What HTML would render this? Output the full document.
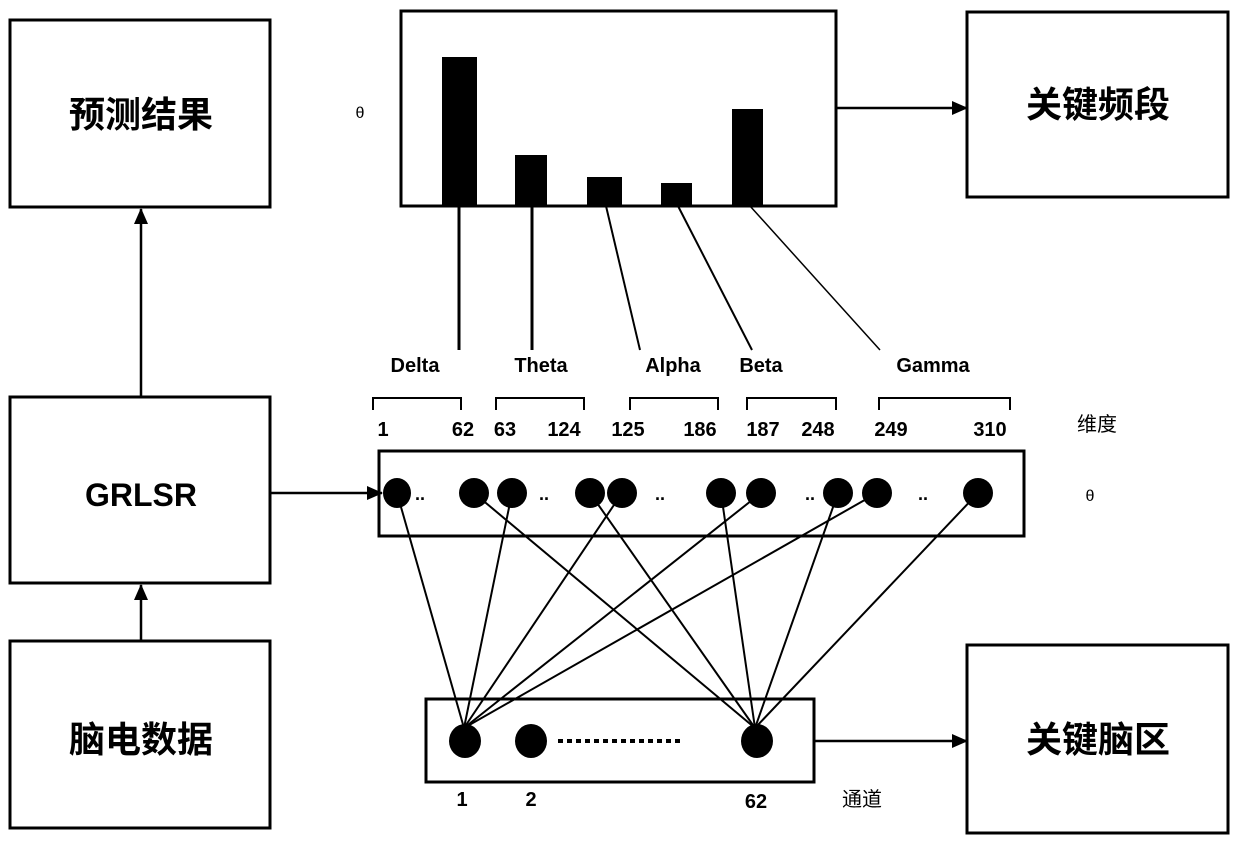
<!DOCTYPE html>
<html><head><meta charset="utf-8"><style>
body{margin:0;background:#fff;}
svg text{font-family:"Liberation Sans","Noto Sans CJK SC",sans-serif;}
</style></head><body>
<svg width="1240" height="853" viewBox="0 0 1240 853" xmlns="http://www.w3.org/2000/svg">
<defs>
<marker id="b" markerWidth="16" markerHeight="16" refX="15" refY="8" orient="auto" markerUnits="userSpaceOnUse"><path d="M0,1 L16,8 L0,15 z" fill="#000"/></marker></defs>
<g fill="none" stroke="#000" stroke-width="3">
<rect x="10" y="20" width="260" height="187"/>
<rect x="10" y="397" width="260" height="186"/>
<rect x="10" y="641" width="260" height="187"/>
<rect x="967" y="12" width="261" height="185"/>
<rect x="967" y="645" width="261" height="188"/>
<rect x="401" y="11" width="435" height="195"/>
<rect x="379" y="451" width="645" height="85"/>
<rect x="426" y="699" width="388" height="83"/>
</g>
<g stroke="#000" stroke-width="2.5" fill="none">
<line x1="141" y1="397" x2="141" y2="209" marker-end="url(#b)"/>
<line x1="141" y1="641" x2="141" y2="585" marker-end="url(#b)"/>
<line x1="270" y1="493" x2="382" y2="493" marker-end="url(#b)"/>
<line x1="836" y1="108" x2="967" y2="108" marker-end="url(#b)"/>
<line x1="814" y1="741" x2="967" y2="741" marker-end="url(#b)"/>
</g>
<g fill="#000">
<rect x="442" y="57" width="35" height="149"/>
<rect x="515" y="155" width="32" height="51"/>
<rect x="587" y="177" width="35" height="29"/>
<rect x="661" y="183" width="31" height="23"/>
<rect x="732" y="109" width="31" height="97"/>
</g>
<g stroke="#000" stroke-width="2">
<line x1="459" y1="206" x2="459" y2="350" stroke-width="3"/>
<line x1="532" y1="206" x2="532" y2="350" stroke-width="3"/>
<line x1="606" y1="206" x2="640" y2="350"/>
<line x1="678" y1="206" x2="752" y2="350"/>
<line x1="750" y1="206" x2="880" y2="350" stroke-width="1.5"/>
</g>
<g stroke="#000" stroke-width="2" fill="none">
<path d="M373,410 V398 H461 V410"/>
<path d="M496,410 V398 H584 V410"/>
<path d="M630,410 V398 H718 V410"/>
<path d="M747,410 V398 H836 V410"/>
<path d="M879,410 V398 H1010 V410"/>
</g>
<g stroke="#000" stroke-width="2">
<line x1="397" y1="493" x2="464" y2="728"/>
<line x1="512" y1="493" x2="464" y2="728"/>
<line x1="622" y1="493" x2="464" y2="728"/>
<line x1="761" y1="493" x2="464" y2="728"/>
<line x1="877" y1="493" x2="464" y2="728"/>
<line x1="474" y1="493" x2="755" y2="728"/>
<line x1="590" y1="493" x2="755" y2="728"/>
<line x1="721" y1="493" x2="755" y2="728"/>
<line x1="838" y1="493" x2="755" y2="728"/>
<line x1="978" y1="493" x2="755" y2="728"/>
</g>
<g fill="#000">
<ellipse cx="397" cy="493" rx="14" ry="15"/>
<ellipse cx="474" cy="493" rx="15" ry="15"/>
<ellipse cx="512" cy="493" rx="15" ry="15"/>
<ellipse cx="590" cy="493" rx="15" ry="15"/>
<ellipse cx="622" cy="493" rx="15" ry="15"/>
<ellipse cx="721" cy="493" rx="15" ry="15"/>
<ellipse cx="761" cy="493" rx="15" ry="15"/>
<ellipse cx="838" cy="493" rx="15" ry="15"/>
<ellipse cx="877" cy="493" rx="15" ry="15"/>
<ellipse cx="978" cy="493" rx="15" ry="15"/>
<ellipse cx="465" cy="741" rx="16" ry="17"/>
<ellipse cx="531" cy="741" rx="16" ry="17"/>
<ellipse cx="757" cy="741" rx="16" ry="17"/>
</g>
<g font-size="18" font-weight="bold" fill="#000">
<text x="415" y="500">..</text><text x="539" y="500">..</text><text x="655" y="500">..</text><text x="805" y="500">..</text><text x="918" y="500">..</text>
</g>
<line x1="558" y1="741" x2="682" y2="741" stroke="#000" stroke-width="4" stroke-dasharray="5,4"/>
<g font-size="36" font-weight="bold" text-anchor="middle" fill="#000">
<text x="141" y="127">预测结果</text>
<text x="141" y="506" font-size="32">GRLSR</text>
<text x="141" y="752">脑电数据</text>
<text x="1098" y="117">关键频段</text>
<text x="1098" y="752">关键脑区</text>
</g>
<g font-size="20" text-anchor="middle" fill="#000" font-weight="bold">
<text x="415" y="372">Delta</text><text x="541" y="372">Theta</text><text x="673" y="372">Alpha</text><text x="761" y="372">Beta</text><text x="933" y="372">Gamma</text>
<text x="383" y="436">1</text><text x="463" y="436">62</text><text x="505" y="436">63</text><text x="564" y="436">124</text><text x="628" y="436">125</text><text x="700" y="436">186</text><text x="763" y="436">187</text><text x="818" y="436">248</text><text x="891" y="436">249</text><text x="990" y="436">310</text>
<text x="462" y="806">1</text><text x="531" y="806">2</text><text x="756" y="808">62</text>
</g>
<g font-size="20" text-anchor="middle" fill="#000">
<text x="1097" y="431">维度</text><text x="862" y="806">通道</text>
<text x="360" y="118" font-size="16">θ</text><text x="1090" y="501" font-size="16">θ</text>
</g>
</svg>
</body></html>
